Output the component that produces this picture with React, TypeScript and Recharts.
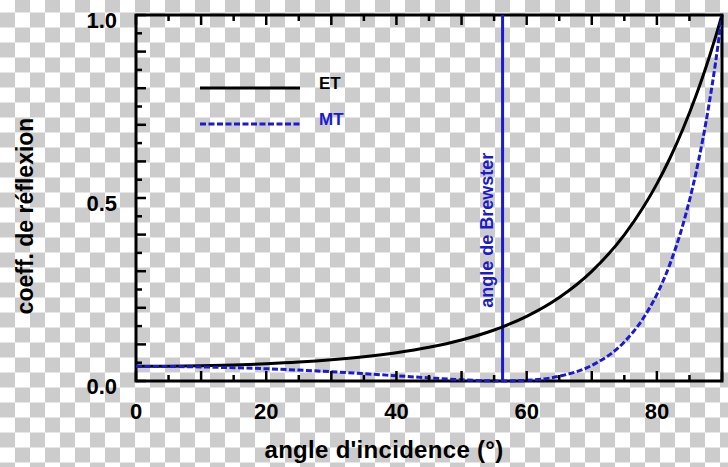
import React from "react";
import {
  LineChart,
  Line,
  XAxis,
  YAxis,
  ReferenceLine,
  ReferenceArea,
  Legend,
} from "recharts";

// Reflection coefficients (angle in degrees)
const angles = [0, 5, 10, 15, 20, 25, 30, 35, 40, 45, 50, 55, 56.3, 60, 65, 70, 75, 78, 80, 82, 84, 86, 87, 88, 89, 90];
const etValues = [0.04, 0.0404, 0.0417, 0.0438, 0.0471, 0.0516, 0.0578, 0.0661, 0.0772, 0.092, 0.1121, 0.1393, 0.1479, 0.1766, 0.2281, 0.2996, 0.3994, 0.4773, 0.5386, 0.6086, 0.6884, 0.7793, 0.8293, 0.8826, 0.9395, 1.0];
const mtValues = [0.04, 0.0396, 0.0384, 0.0363, 0.0335, 0.0298, 0.0253, 0.02, 0.0143, 0.0085, 0.0033, 0.0002, 0, 0.0018, 0.013, 0.0425, 0.1068, 0.174, 0.2368, 0.3193, 0.4273, 0.5688, 0.6555, 0.7548, 0.8689, 1.0];

const xTicks = [0, 5, 10, 15, 20, 25, 30, 35, 40, 45, 50, 55, 60, 65, 70, 75, 80, 85, 90];
const xLabels = [0, 20, 40, 60, 80];
const yTicks = [0, 0.05, 0.1, 0.15, 0.2, 0.25, 0.3, 0.35, 0.4, 0.45, 0.5, 0.55, 0.6, 0.65, 0.7, 0.75, 0.8, 0.85, 0.9, 0.95, 1.0];
const yLabels = [0, 0.5, 1];
const brewsterAngle = 56.3;

const data = angles.map((a, i) => ({ angle: a, et: etValues[i], mt: mtValues[i] }));

const BLUE = "#1a1ad0";
const FONT = "'Liberation Sans', Arial, Helvetica, sans-serif";
const CHECKER = "repeating-conic-gradient(#cccccc 0% 25%, #ffffff 0% 50%) 0 -2.5px / 30px 30px";

const majorX = (v: number) => v % 10 === 0;
const majorY = (v: number) => Math.abs(v * 10 - Math.round(v * 10)) < 1e-6;
const tickLen = (major: boolean) => (major ? 10 : 6);

const BottomTick = ({ x, y, payload }: any) => {
  const v = payload.value;
  return (
    <g>
      <line x1={x} x2={x} y1={y} y2={y - tickLen(majorX(v))} stroke="#000" strokeWidth={2.5} />
      {xLabels.includes(v) && (
        <text x={x} y={y + 38} textAnchor="middle" fontFamily={FONT} fontWeight="bold" fontSize={22} fill="#000">
          {v}
        </text>
      )}
    </g>
  );
};

const TopTick = ({ x, y, payload }: any) => (
  <line x1={x} x2={x} y1={y} y2={y + tickLen(majorX(payload.value))} stroke="#000" strokeWidth={2.5} />
);

const LeftTick = ({ x, y, payload }: any) => {
  const v = payload.value;
  return (
    <g>
      <line x1={x} x2={x + tickLen(majorY(v))} y1={y} y2={y} stroke="#000" strokeWidth={2.5} />
      {yLabels.some((l) => Math.abs(l - v) < 1e-6) && (
        <text x={x - 19} y={y + 13} textAnchor="end" fontFamily={FONT} fontWeight="bold" fontSize={22} fill="#000">
          {v.toFixed(1)}
        </text>
      )}
    </g>
  );
};

const RightTick = ({ x, y, payload }: any) => (
  <line x1={x} x2={x - tickLen(majorY(payload.value))} y1={y} y2={y} stroke="#000" strokeWidth={2.5} />
);

const XTitle = () => (
  <text
    x={384}
    y={458}
    textAnchor="middle"
    fontFamily={FONT}
    fontWeight="bold"
    fontSize={24}
    letterSpacing={0.3}
    fill="#000"
  >
    angle d'incidence (°)
  </text>
);

const YTitle = () => (
  <text
    x={33}
    y={216}
    transform="rotate(-90, 33, 216)"
    textAnchor="middle"
    fontFamily={FONT}
    fontWeight="bold"
    fontSize={23}
    fill="#000"
  >
    coeff. de réflexion
  </text>
);

const BrewsterLabel = ({ viewBox }: any) => {
  const x = viewBox.x - 10;
  const y = viewBox.y + viewBox.height * 0.588;
  return (
    <text
      x={x}
      y={y}
      transform={`rotate(-90, ${x}, ${y})`}
      textAnchor="middle"
      fontFamily={FONT}
      fontWeight="bold"
      fontSize={18}
      fill={BLUE}
    >
      angle de Brewster
    </text>
  );
};

const LegendBox = ({ payload }: any) => (
  <svg width={160} height={70} style={{ display: "block" }}>
    {(payload || []).map((entry: any, i: number) => {
      const y = 18 + i * 36;
      return (
        <g key={entry.value}>
          <line
            x1={0}
            x2={100}
            y1={y}
            y2={y}
            stroke={entry.color}
            strokeWidth={3}
            strokeDasharray={entry.dataKey === "mt" ? "6 2.5" : undefined}
          />
          <text x={119} y={y + 0.5} fontFamily={FONT} fontWeight="bold" fontSize={17} fill={entry.color}>
            {entry.value}
          </text>
        </g>
      );
    })}
  </svg>
);

export default function App() {
  return (
    <div style={{ position: "absolute", left: 0, top: 0, width: 728, height: 467, background: CHECKER }}>
      <LineChart width={728} height={467} data={data} margin={{ top: 14, right: 5, bottom: 0, left: 0 }}>
        <XAxis
          dataKey="angle"
          type="number"
          domain={[0, 90]}
          ticks={xTicks}
          interval={0}
          height={86}
          axisLine={false}
          tickLine={false}
          tickSize={0}
          tickMargin={0}
          tick={BottomTick}
          label={XTitle}
        />
        <XAxis
          xAxisId="top"
          orientation="top"
          dataKey="angle"
          type="number"
          domain={[0, 90]}
          ticks={xTicks}
          interval={0}
          height={1}
          axisLine={false}
          tickLine={false}
          tickSize={0}
          tickMargin={0}
          tick={TopTick}
        />
        <YAxis
          type="number"
          domain={[0, 1]}
          ticks={yTicks}
          interval={0}
          width={136}
          axisLine={false}
          tickLine={false}
          tickSize={0}
          tickMargin={0}
          tick={LeftTick}
          label={YTitle}
        />
        <YAxis
          yAxisId="right"
          orientation="right"
          type="number"
          domain={[0, 1]}
          ticks={yTicks}
          interval={0}
          width={1}
          axisLine={false}
          tickLine={false}
          tickSize={0}
          tickMargin={0}
          tick={RightTick}
        />
        <ReferenceArea x1={0} x2={90} y1={0} y2={1} fill="none" stroke="#000" strokeWidth={3} fillOpacity={0} />
        <ReferenceLine x={brewsterAngle} stroke={BLUE} strokeWidth={3} label={BrewsterLabel} />
        <Legend
          layout="vertical"
          align="center"
          verticalAlign="middle"
          wrapperStyle={{ left: 200, top: 70, width: 160, height: 70 }}
          content={LegendBox}
        />
        <Line
          dataKey="et"
          name="ET"
          type="monotone"
          stroke="#000"
          strokeWidth={3}
          dot={false}
          activeDot={false}
          isAnimationActive={false}
        />
        <Line
          dataKey="mt"
          name="MT"
          type="monotone"
          stroke={BLUE}
          strokeWidth={3}
          strokeDasharray="6 2.5"
          dot={false}
          activeDot={false}
          isAnimationActive={false}
        />
      </LineChart>
    </div>
  );
}
